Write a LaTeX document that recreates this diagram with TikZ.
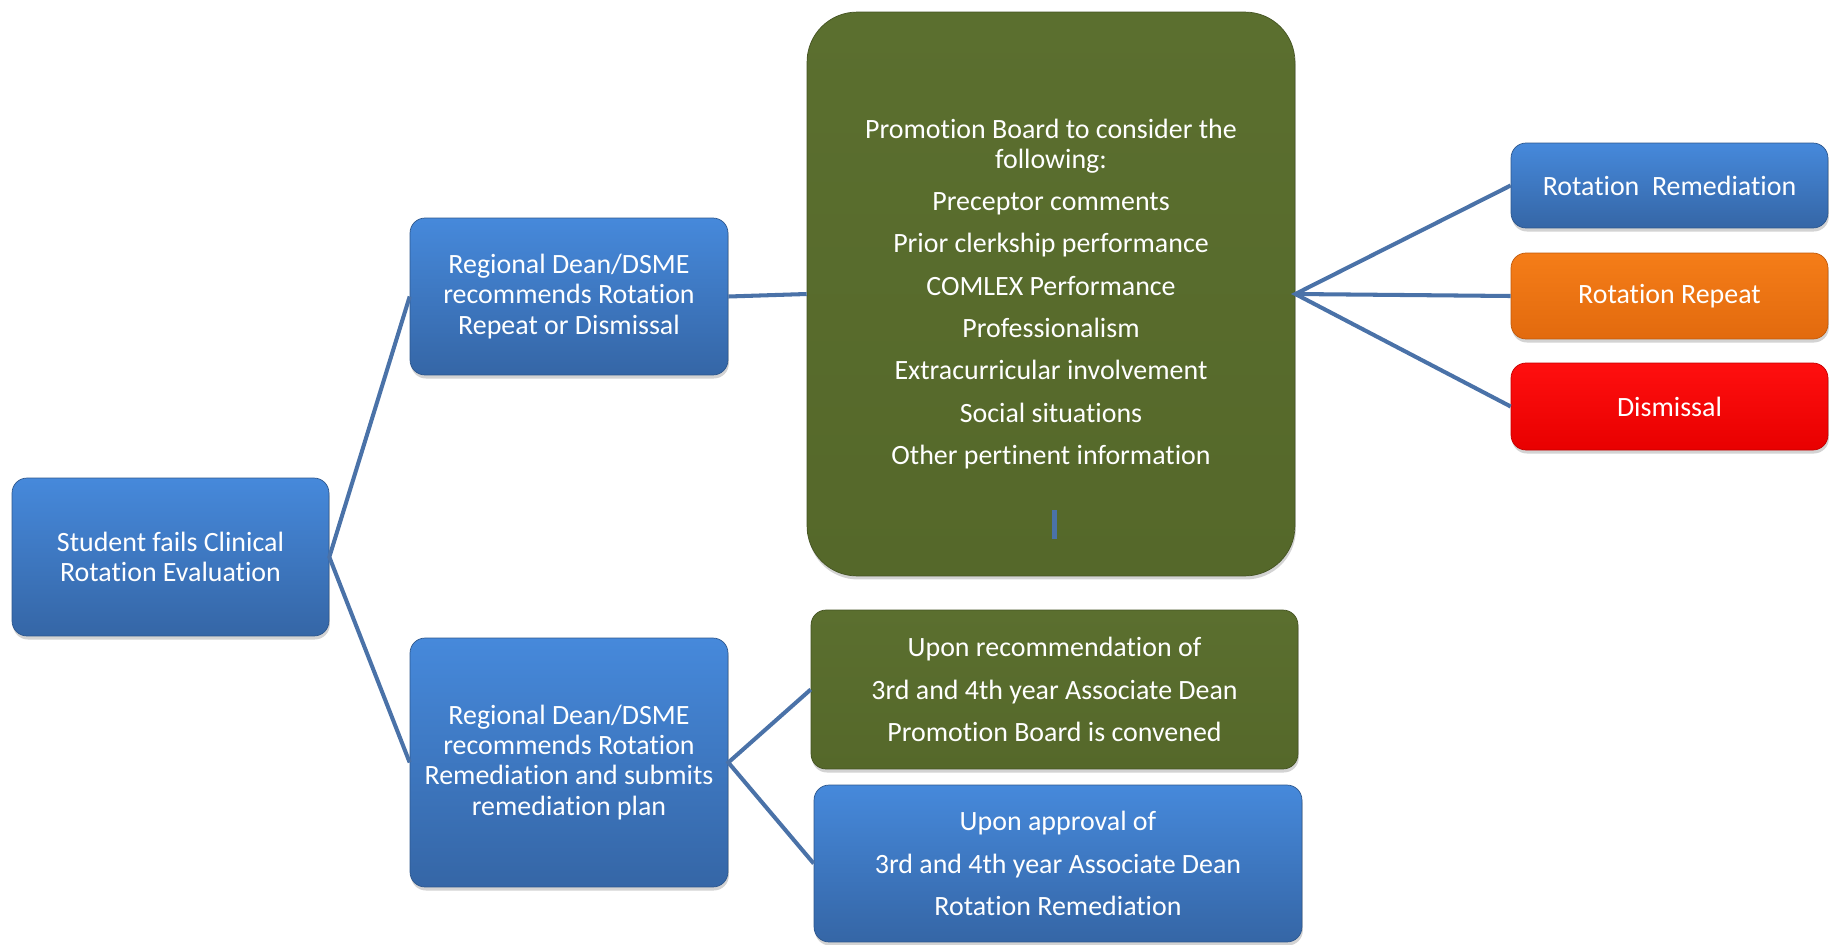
\documentclass[tikz,border=0pt]{standalone}
\usepackage{fontspec}
\setmainfont{Carlito}[Ligatures={NoCommon,NoContextual,NoRequired}, Contextuals=NoAlternate]
\usetikzlibrary{shadows}

\definecolor{lnk}{HTML}{4A72A8}
\definecolor{bluehi}{HTML}{4689DB}
\definecolor{bluelo}{HTML}{3566A6}
\definecolor{greenhi}{HTML}{5B6F2F}
\definecolor{greenlo}{HTML}{55682A}
\definecolor{orangehi}{HTML}{F57D18}
\definecolor{orangelo}{HTML}{E26A0E}
\definecolor{redhi}{HTML}{FF0F0F}
\definecolor{redlo}{HTML}{E80000}

\tikzset{
  box/.style={rounded corners=0.3cm, text=white, align=center, inner sep=0pt,
    drop shadow={shadow xshift=0.5pt, shadow yshift=-2pt, opacity=0.35}},
  bluebox/.style={box, top color=bluehi, bottom color=bluelo, draw=bluelo!85!black, line width=0.4pt},
  greenbox/.style={box, top color=greenhi, bottom color=greenlo, draw=greenlo!80!black, line width=0.4pt},
  orangebox/.style={box, top color=orangehi, bottom color=orangelo, draw=orangelo!85!black, line width=0.4pt},
  redbox/.style={box, top color=redhi, bottom color=redlo, draw=redlo!85!black, line width=0.4pt},
  link/.style={draw=lnk, line width=2.3pt}
}

\begin{document}
\begin{tikzpicture}[x=0.02cm, y=-0.02cm, font=\fontsize{15.9}{17.1}\selectfont]
\useasboundingbox (0,0) rectangle (1837,944);

\node[bluebox, minimum width=6.34cm, minimum height=3.16cm] (stud) at (170.5,557)
  {Student fails Clinical\\Rotation Evaluation};
\node[bluebox, minimum width=6.36cm, minimum height=3.14cm] (regtop) at (569,296.5)
  {Regional Dean/DSME\\recommends Rotation\\Repeat or Dismissal};
\node[bluebox, minimum width=6.36cm, minimum height=4.98cm] (regbot) at (569,762.5)
  {Regional Dean/DSME\\recommends Rotation\\Remediation and submits\\remediation plan};

\node[greenbox, rounded corners=1cm, minimum width=9.76cm, minimum height=11.28cm] (board) at (1051,294)
  {Promotion Board to consider the\\following:\\[7pt]
   Preceptor comments\\[7pt]
   Prior clerkship performance\\[7pt]
   COMLEX Performance\\[7pt]
   Professionalism\\[7pt]
   Extracurricular involvement\\[7pt]
   Social situations\\[7pt]
   Other pertinent information};
\fill[lnk] (1052,510) rectangle (1057,539);

\node[bluebox, minimum width=6.34cm, minimum height=1.70cm] (rrem) at (1669.5,185.5) {Rotation\ \ Remediation};
\node[orangebox, minimum width=6.34cm, minimum height=1.72cm] (rrep) at (1669.5,296) {Rotation Repeat};
\node[redbox, minimum width=6.34cm, minimum height=1.74cm] (dism) at (1669.5,406.5) {Dismissal};

\node[greenbox, minimum width=9.74cm, minimum height=3.18cm] (convene) at (1054.5,689.5)
  {Upon recommendation of\\[7pt]3rd and 4th year Associate Dean\\[7pt]Promotion Board is convened};
\node[bluebox, minimum width=9.76cm, minimum height=3.14cm] (approve) at (1058,863.5)
  {Upon approval of\\[7pt]3rd and 4th year Associate Dean\\[7pt]Rotation Remediation};

\draw[link] (regtop.west) -- (stud.east) -- (regbot.west);
\draw[link] (regtop.east) -- (board.west);
\draw[link] (rrem.west) -- (board.east) -- (dism.west);
\draw[link] (board.east) -- (rrep.west);
\draw[link] (convene.west) -- (regbot.east) -- (approve.west);
\end{tikzpicture}
\end{document}
